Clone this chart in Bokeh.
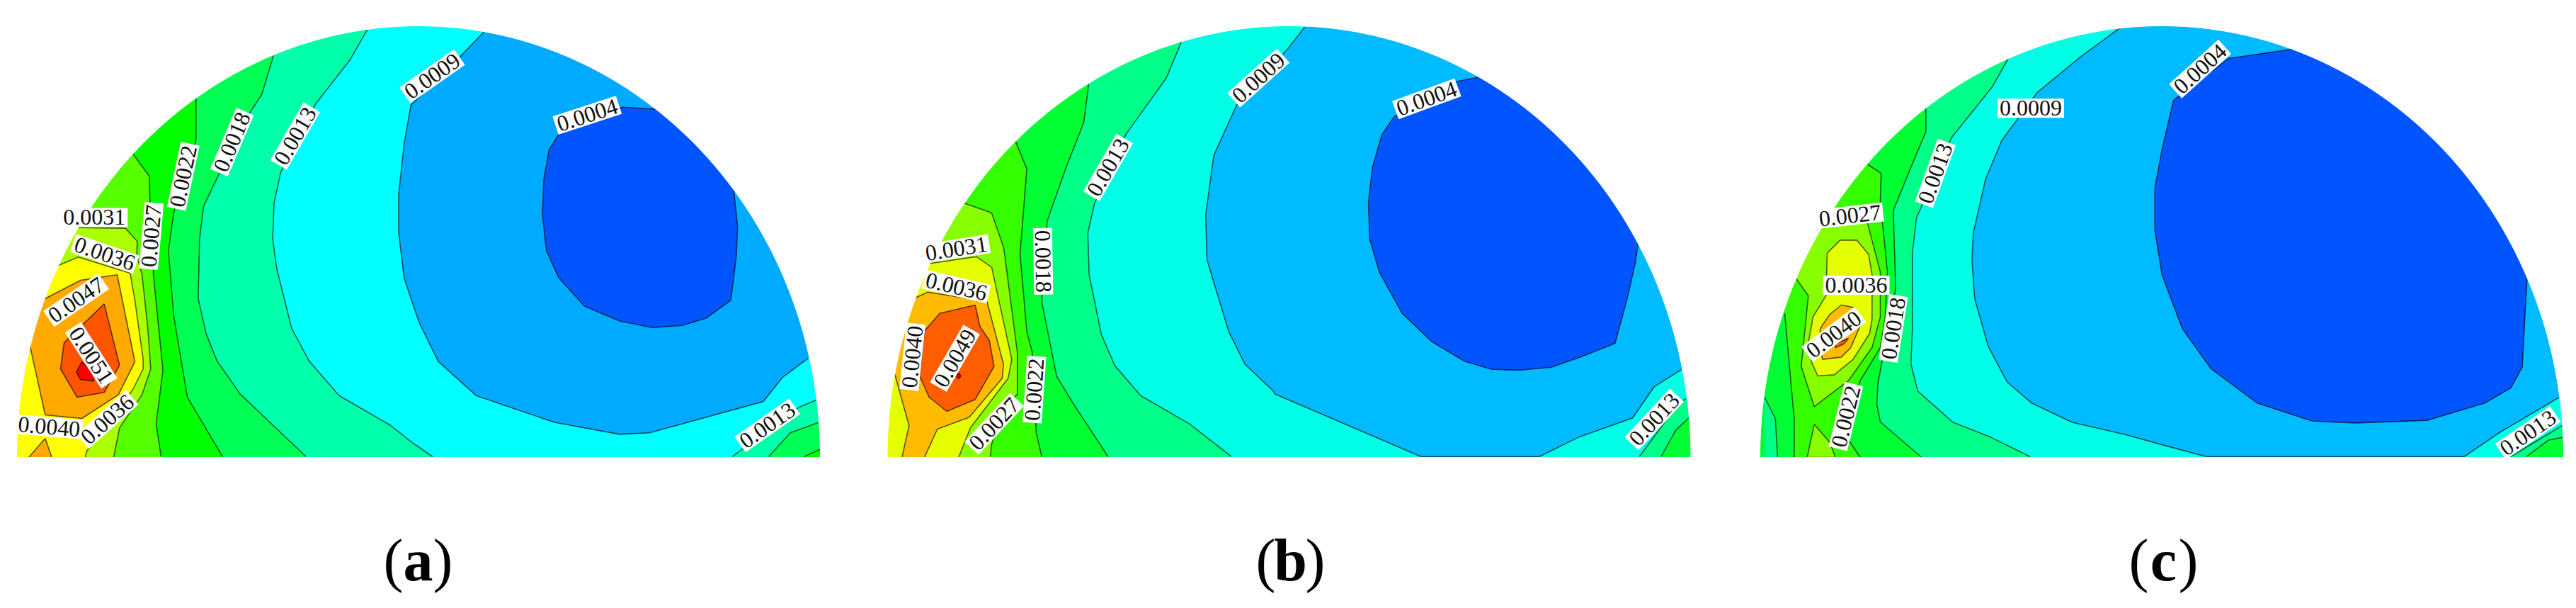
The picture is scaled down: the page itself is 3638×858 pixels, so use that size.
import math
from bokeh.plotting import figure
from bokeh.models import Range1d
from bokeh.core.properties import value
from bokeh.embed import file_html
from bokeh.resources import INLINE

# Panel geometry in reference pixels
panels = {"a": (590.5, 567.5), "b": (1820.0, 567.5), "c": (3052.5, 567.5)}
TOP, BASE = 36.0, 645.0

# Read-off crops: (x0, y0, sx, sy)
A1, A2, A3 = (0, 0, .3827, .4209), (580, 0, .3827, .4209), (0, 250, 1/3, 1/3)
B1, B2, B3 = (1220, 0, .3827, .4209), (1800, 0, .3827, .4209), (1240, 250, 1/3, 1/3)
C1, C2, C3 = (2440, 0, .3827, .4209), (3000, 0, .4069, .4209), (2470, 250, 1/3, 1/3)

def t(tile, pts):
    return [(tile[0] + x * tile[2], tile[1] + y * tile[3]) for x, y in pts]

# ---------- contour lines, panel (a) ----------
a_0004 = t(A2, [(900,365),(780,358),(545,450),(510,500),(490,600),(485,720),(500,840),(545,930),(640,1025),(770,1075),(890,1097),(1000,1090),(1090,1065),(1180,1005),(1200,860),(1205,760),(1190,630)])
a_0009 = t(A2, [(270,105),(185,185),(0,350)]) + t(A1, [(1490,480),(1470,650),(1470,780),(1490,930)]) + t(A2, [(0,1000),(30,1080),(100,1210),(240,1325),(530,1415),(770,1455),(880,1450),(1300,1345),(1370,1265),(1465,1200)])
a_0013 = t(A1, [(1355,97),(1290,200),(1165,345),(1035,575),(1010,680),(1005,800),(1020,900),(1075,1100),(1140,1210),(1250,1325),(1440,1425)]) + t(A2, [(0,1480),(80,1530)])
a_0018 = t(A1, [(1008,185),(965,315),(925,370),(800,595),(750,690),(735,800),(730,1000),(760,1120),(800,1210),(885,1320),(1128,1530)])
a_0022 = t(A1, [(722,325),(722,470),(640,710),(620,840),(640,1060),(690,1330),(820,1530)])
a_0027 = t(A1, [(488,513),(550,590),(552,670),(565,920),(580,1060),(600,1240),(575,1420),(593,1530)])
a_0031 = t(A3, [(325,212),(530,215),(580,270),(578,330),(600,410),(625,640),(637,810),(600,920),(505,1060),(480,1185)])
a_0036 = t(A3, [(240,375),(330,337),(550,405),(570,520),(605,770),(605,810),(560,900),(365,1160),(360,1185)])
a_0040 = t(A3, [(185,515),(340,435),(495,412),(570,780),(500,920),(345,1020),(190,1005),(125,710)])
a_0040b = t(A3, [(120,1185),(190,1105),(218,1185)])
a_0047 = t(A3, [(440,535),(505,795),(440,910),(325,930),(255,810),(270,700),(300,670),(440,535)])
a_0051 = t(A3, [(345,780),(322,825),(340,855),(395,862),(400,830),(345,780)])
a_r0013 = t(A2, [(1185,1530),(1430,1365),(1495,1340)])
a_r0018 = t(A2, [(1320,1530),(1400,1450),(1505,1415)])
a_r0022 = t(A2, [(1450,1530),(1510,1505)])

# ---------- contour lines, panel (b) ----------
b_0004 = t(B2, [(750,258),(670,272),(440,390),(395,450),(360,560),(345,680),(350,800),(385,910),(470,1050),(580,1145),(700,1210),(800,1237),(900,1240),(1020,1230),(1130,1195),(1255,1150),(1300,1000),(1330,880),(1340,815)])
b_0009 = t(B2, [(110,90),(45,165)]) + t(B1, [(1375,350),(1290,520),(1260,720),(1265,870),(1345,1110),(1405,1220),(1510,1310)]) + t(B2, [(0,1320),(540,1530),(975,1530),(1120,1465),(1320,1400),(1400,1295),(1500,1238)])
b_0013 = t(B1, [(1170,140),(1115,260),(965,450),(850,680),(825,780),(830,920),(875,1120),(925,1225),(1020,1325),(1200,1420),(1355,1530)])
b_0018 = t(B1, [(828,282),(810,410),(745,560),(675,740),(655,1010),(710,1260),(770,1350),(900,1530)])
b_0022 = t(B1, [(558,472),(600,565),(590,680),(575,850),(600,1110),(620,1180),(635,1450),(655,1530)])
b_0027 = t(B1, [(370,680),(470,712),(515,830),(565,1180),(565,1320),(500,1390),(470,1490),(465,1530)])
b_0031 = t(B3, [(210,365),(415,335),(480,380),(565,770),(550,850),(390,1060),(340,1185)])
b_0036 = t(B3, [(155,510),(210,485),(460,525),(530,790),(525,850),(385,1015),(250,1065),(195,1185)])
b_0036b = t(B3, [(100,1185),(130,1050),(70,835)])
b_0040 = t(B3, [(410,540),(430,630),(470,690),(490,800),(410,940),(290,990),(215,930),(175,840),(195,650),(260,575),(410,540)])
b_0049 = t(B3, [(330,840),(340,828),(350,840),(340,852),(330,840)])
b_r0013 = t(B2, [(1345,1530),(1490,1350),(1517,1335)])
b_r0018 = t(B2, [(1425,1530),(1480,1440),(1528,1400)])

# ---------- contour lines, panel (c) ----------
c_0004 = t(C2, [(590,163),(360,195),(170,335),(130,500),(105,630),(105,770),(130,920),(200,1100),(300,1235),(460,1350),(650,1410),(800,1417),(1050,1408),(1250,1350),(1340,1300),(1380,1230),(1390,1050),(1397,930)])
c_0009 = t(C1, [(1450,90),(1300,190),(1140,310),(1010,470),(950,600),(905,780),(900,870),(910,1000),(960,1160),(1030,1280),(1120,1350),(1270,1415)]) + t(C2, [(0,1455),(130,1490),(285,1530),(1178,1530),(1300,1450),(1510,1330)])
c_0013 = t(C1, [(1035,193),(975,290),(825,460),(695,730),(680,850),(680,1100),(675,1220),(700,1310),(830,1415),(970,1465),(1115,1530)])
c_0018 = t(C3, [(670,0),(610,140),(620,470),(545,870),(540,960),(555,1035),(730,1185)])
c_0018top = t(C1, [(730,362),(730,440),(670,570)])
c_0022 = t(C1, [(515,550),(565,580)]) + t(C3, [(555,100),(585,400),(575,600),(555,720),(470,860),(420,1000),(420,1110),(470,1185)])
c_0022b = t(C3, [(190,1185),(190,1020),(170,800),(150,575)])
c_0027 = t(C3, [(300,205),(500,190),(555,400),(555,590),(520,720),(420,860),(275,970),(220,800),(250,500),(200,430)])
c_0027b = t(C3, [(275,1045),(245,1185),(365,1185),(340,1120),(275,1045)])
c_0013l = t(C3, [(65,930),(110,1020),(120,1185)])
c_0031 = t(C3, [(385,265),(455,265),(505,325),(520,410),(520,600),(510,660),(440,770),(360,835),(290,840),(265,785),(250,700),(270,590),(325,500),(330,320),(385,265)])
c_0036 = t(C3, [(390,540),(440,550),(480,600),(460,650),(430,720),(390,760),(310,770),(305,740),(300,640),(340,580),(390,540)])
c_0040 = t(C3, [(365,705),(420,680),(400,705),(365,720),(365,705)])
c_r0013 = t(C2, [(1340,1530),(1520,1425)])
c_r0018 = t(C2, [(1395,1530),(1470,1475),(1522,1465)])

# Band colours
a_cols = ["#0055FF", "#00AAFF", "#00FFFF", "#00FFAA", "#00FF55", "#00FF00", "#55FF00", "#AAFF00", "#FFFF00", "#FFAA00", "#FF5500", "#FF0000"]
bc_cols = ["#0055FF", "#00BBFF", "#00FFE6", "#00FF88", "#00FF33", "#33FF00", "#88FF00", "#E6FF00", "#FFBB00", "#FF5E00", "#FF0000"]

# Contour labels: text, x, y, angle (deg)
a_labels = [("0.0031", *t(A1,[(347,728)])[0], 0), ("0.0036", *t(A1,[(385,850)])[0], -19), ("0.0027", *t(A1,[(557,790)])[0], 85),
            ("0.0022", *t(A1,[(675,590)])[0], 78), ("0.0018", *t(A1,[(855,475)])[0], 67), ("0.0013", *t(A1,[(1088,455)])[0], 60),
            ("0.0009", 610, 107, 35), ("0.0004", *t(A2,[(650,385)])[0], 18), ("0.0013", *t(A2,[(1315,1425)])[0], 35),
            ("0.0047", *t(A1,[(280,1005)])[0], 34.5), ("0.0051", *t(A1,[(335,1190)])[0], -57), ("0.0040", *t(A1,[(180,1430)])[0], -5),
            ("0.0036", *t(A1,[(395,1405)])[0], 41.6)]
b_labels = [("0.0031", *t(B1,[(340,833)])[0], 9), ("0.0036", *t(B1,[(340,960)])[0], -13), ("0.0040", *t(B1,[(178,1195)])[0], 84),
            ("0.0049", *t(B1,[(335,1200)])[0], 60), ("0.0027", *t(B1,[(480,1420)])[0], 47), ("0.0022", *t(B1,[(628,1305)])[0], 86),
            ("0.0018", *t(B1,[(660,875)])[0], -89), ("0.0013", *t(B1,[(900,560)])[0], 60), ("0.0009", *t(B1,[(1455,260)])[0], 42),
            ("0.0004", *t(B2,[(560,330)])[0], 20), ("0.0013", *t(B2,[(1400,1405)])[0], 47)]
c_labels = [("0.0027", *t(C1,[(450,722)])[0], 6.5), ("0.0036", *t(C1,[(473,955)])[0], 0), ("0.0040", *t(C1,[(390,1120)])[0], 37),
            ("0.0022", *t(C1,[(435,1395)])[0], 76), ("0.0018", *t(C1,[(610,1100)])[0], 81), ("0.0013", *t(C1,[(765,580)])[0], 70),
            ("0.0009", *t(C1,[(1117,362)])[0], 0), ("0.0004", *t(C2,[(262,230)])[0], 42), ("0.0013", *t(C2,[(1400,1450)])[0], 34.5)]

captions = [("a", 590, 790), ("b", 1822, 790), ("c", 3055, 790)]

p = figure(width=3622, height=842, x_range=Range1d(0, 3622), y_range=Range1d(842, 0),
           toolbar_location=None, output_backend="svg", min_border=0)
p.axis.visible = False
p.grid.visible = False
p.outline_line_color = None
p.background_fill_color = "white"

OUT = 12
def fill(pts, col):
    p.patch([q[0] for q in pts], [q[1] for q in pts], fill_color=col, line_color=col, line_width=0.5)

def left(pts, cx, a):      # region left of a line running from the rim down to the base
    xo = cx - a - OUT
    return pts + [(pts[-1][0], BASE + 8), (xo, BASE + 8), (xo, TOP - OUT), (pts[0][0], TOP - OUT)]
def rim_left(pts, cx, a):  # both ends on the left rim
    xo = cx - a - OUT
    return pts + [(xo, pts[-1][1]), (xo, pts[0][1])]
def base_left(pts, cx, a): # from the base to the left rim
    xo = cx - a - OUT
    return [(pts[0][0], BASE + 8)] + pts + [(xo, pts[-1][1]), (xo, BASE + 8)]
def corner(pts, cx, a):    # from the base to the right rim
    xo = cx + a + OUT
    return [(pts[0][0], BASE + 8)] + pts + [(xo, pts[-1][1]), (xo, BASE + 8)]
def top_right(pts, cx, a): # from the upper rim to the right rim
    xo = cx + a + OUT
    return pts + [(xo, pts[-1][1]), (xo, TOP - OUT), (pts[0][0], TOP - OUT)]

def base_shape(cx, a):
    xl, xr = cx - a - OUT, cx + a + OUT
    return [(xl, TOP - OUT), (xr, TOP - OUT), (xr, BASE + 8), (xl, BASE + 8)]

# Panel (a)
cx, ra = panels["a"]
fill(base_shape(cx, ra), a_cols[2])
fill(left(a_0013, cx, ra), a_cols[3]); fill(left(a_0018, cx, ra), a_cols[4]); fill(left(a_0022, cx, ra), a_cols[5])
fill(left(a_0027, cx, ra), a_cols[6]); fill(left(a_0031, cx, ra), a_cols[7]); fill(left(a_0036, cx, ra), a_cols[8])
fill(rim_left(a_0040, cx, ra), a_cols[9]); fill([(a_0040b[0][0], BASE+8)] + a_0040b + [(a_0040b[-1][0], BASE+8)], a_cols[9])
fill(a_0047, a_cols[10]); fill(a_0051, a_cols[11])
fill(top_right(a_0009, cx, ra), a_cols[1]); fill(top_right(a_0004, cx, ra), a_cols[0])
fill(corner(a_r0013, cx, ra), a_cols[3]); fill(corner(a_r0018, cx, ra), a_cols[4]); fill(corner(a_r0022, cx, ra), a_cols[5])

# Panel (b)
cx, ra = panels["b"]
fill(base_shape(cx, ra), bc_cols[2])
fill(left(b_0013, cx, ra), bc_cols[3]); fill(left(b_0018, cx, ra), bc_cols[4]); fill(left(b_0022, cx, ra), bc_cols[5])
fill(left(b_0027, cx, ra), bc_cols[6]); fill(left(b_0031, cx, ra), bc_cols[7])
fill(rim_left(b_0036 + b_0036b, cx, ra), bc_cols[8])
fill(b_0040, bc_cols[9]); fill(b_0049, bc_cols[10])
fill(top_right(b_0009, cx, ra), bc_cols[1]); fill(top_right(b_0004, cx, ra), bc_cols[0])
fill(corner(b_r0013, cx, ra), bc_cols[3]); fill(corner(b_r0018, cx, ra), bc_cols[4])

# Panel (c)
cx, ra = panels["c"]
c_0018_full = c_0018top + c_0018[1:]
fill(base_shape(cx, ra), bc_cols[2])
fill(left(c_0013, cx, ra), bc_cols[3]); fill(left(c_0018_full, cx, ra), bc_cols[4])
fill(left(c_0022, cx, ra), bc_cols[5])
fill(base_left(c_0022b, cx, ra), bc_cols[4])
fill(base_left(c_0013l, cx, ra)[::1], bc_cols[3])
fill(rim_left(c_0027, cx, ra), bc_cols[6]); fill(c_0027b, bc_cols[6])
fill(c_0031, bc_cols[7]); fill(c_0036, bc_cols[8]); fill(c_0040, bc_cols[9])
fill(top_right(c_0009, cx, ra), bc_cols[1]); fill(top_right(c_0004, cx, ra), bc_cols[0])
fill(corner(c_r0013, cx, ra), bc_cols[3]); fill(corner(c_r0018, cx, ra), bc_cols[4])

# Contour lines
all_lines = [a_0004,a_0009,a_0013,a_0018,a_0022,a_0027,a_0031,a_0036,a_0040,a_0040b,a_0047,a_0051,a_r0013,a_r0018,a_r0022,
             b_0004,b_0009,b_0013,b_0018,b_0022,b_0027,b_0031,b_0036,b_0036b,b_0040,b_0049,b_r0013,b_r0018,
             c_0004,c_0009,c_0013,c_0018_full,c_0022,c_0022b,c_0027,c_0027b,c_0013l,c_0031,c_0036,c_0040,c_r0013,c_r0018]
for ln in all_lines:
    p.line([q[0] for q in ln], [q[1] for q in ln], line_color="#000000", line_alpha=0.62, line_width=1.6)

# White masks outside the half ellipses
for k in panels:
    cx, ra = panels[k]
    th = [math.pi - i * math.pi / 240 for i in range(241)]
    ex = [cx + ra * math.cos(v) for v in th]
    ey = [BASE - (BASE - TOP) * math.sin(v) for v in th]
    xl, xr = cx - ra - OUT - 5, cx + ra + OUT + 5
    p.patch(ex + [xr, xr, xl, xl], ey + [BASE, TOP - OUT - 5, TOP - OUT - 5, BASE], fill_color="white", line_color="white", line_width=1)
    p.quad(left=xl, right=xr, top=BASE, bottom=BASE + OUT, fill_color="white", line_color="white")

# Labels
for labels in (a_labels, b_labels, c_labels):
    txt = [l[0] for l in labels]; xs = [l[1] for l in labels]; ys = [l[2] for l in labels]
    ang = [math.radians(l[3]) for l in labels]
    p.rect(xs, ys, width=94, height=27, width_units="screen", height_units="screen", angle=ang,
           fill_color="white", line_color=None)
    p.text(xs, ys, text=txt, angle=ang, text_align="center", text_baseline="middle",
           text_font=value("Liberation Serif"), text_font_size="32px", text_color="#111111")

# Captions: (a) (b) (c)
for k, x, y in captions:
    p.text([x], [y], text=[k], text_align="center", text_baseline="middle", text_font=value("Liberation Serif"),
           text_font_size="84px", text_font_style="bold", text_color="black")
    p.text([x - 21], [y], text=["("], text_align="right", text_baseline="middle", text_font=value("Liberation Serif"),
           text_font_size="84px", text_color="black")
    p.text([x + 21], [y], text=[")"], text_align="left", text_baseline="middle", text_font=value("Liberation Serif"),
           text_font_size="84px", text_color="black")

open("out.html", "w").write(file_html(p, INLINE))
